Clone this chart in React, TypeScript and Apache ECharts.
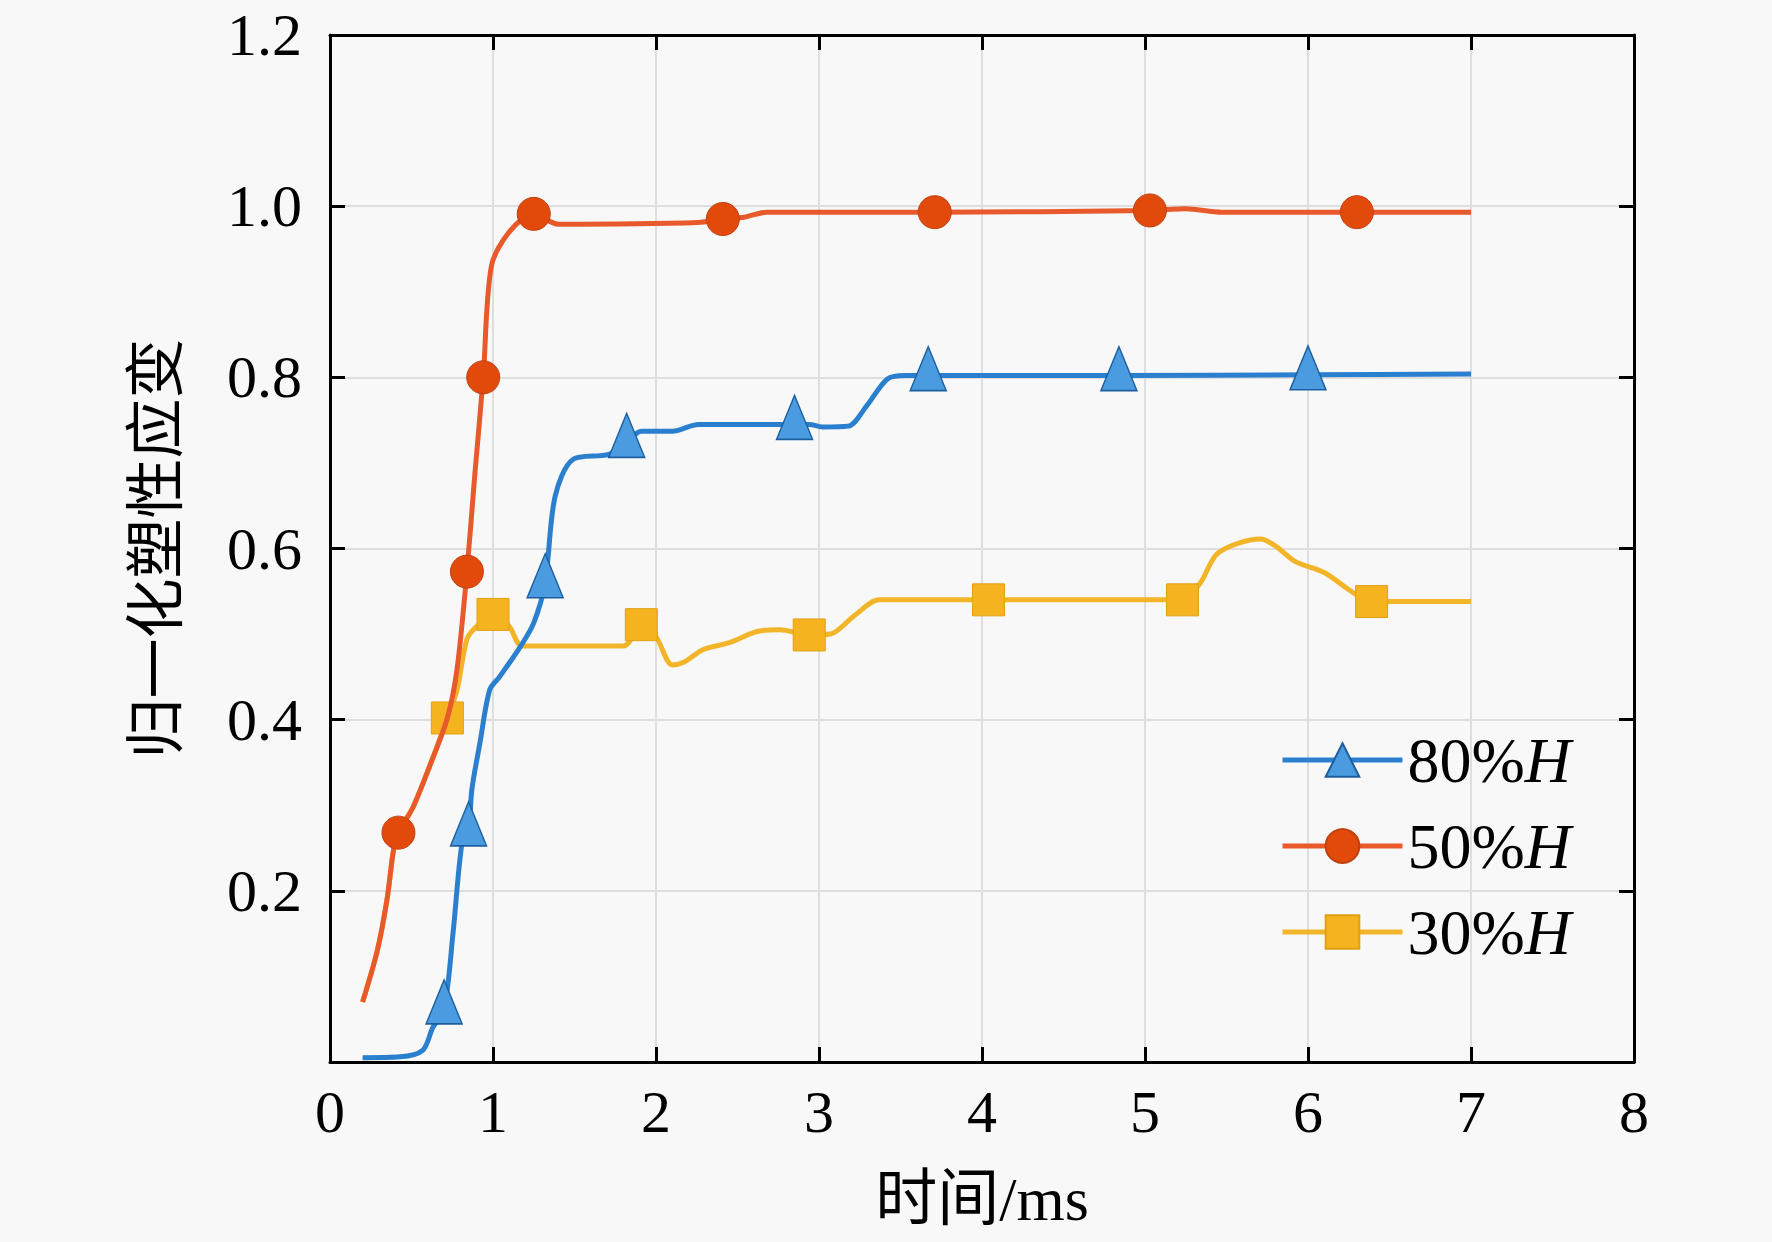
import React, { useEffect, useRef } from "react";
import * as echarts from "echarts";

const xTickLabels = ["0", "1", "2", "3", "4", "5", "6", "7", "8"];
const yTickLabels = ["", "0.2", "0.4", "0.6", "0.8", "1.0", "1.2"];
const seriesNames = ["80%H", "50%H", "30%H"];

// 80%H
const t80 = [0.2, 0.43, 0.57, 0.63, 0.7, 0.755, 0.81, 0.85, 0.87, 0.92, 0.98, 1.04, 1.17, 1.25, 1.32, 1.38, 1.49, 1.71, 1.82, 1.91, 2.1, 2.26, 2.74, 2.85, 2.94, 3.02, 3.18, 3.29, 3.42, 3.53, 3.67, 4.84, 6.0, 7.0];
const v80 = [0.005, 0.006, 0.014, 0.04, 0.062, 0.151, 0.256, 0.27, 0.318, 0.373, 0.435, 0.45, 0.486, 0.513, 0.56, 0.66, 0.704, 0.71, 0.724, 0.737, 0.737, 0.745, 0.745, 0.745, 0.745, 0.742, 0.743, 0.766, 0.798, 0.802, 0.802, 0.802, 0.803, 0.804];
const m80 = [4, 7, 14, 18, 23, 30, 31, 32];

// 50%H
const t50 = [0.2, 0.29, 0.35, 0.39, 0.42, 0.51, 0.61, 0.72, 0.78, 0.84, 0.89, 0.94, 0.99, 1.1, 1.25, 1.4, 2.26, 2.41, 2.54, 2.68, 3.71, 5.03, 5.25, 5.47, 6.3, 7.0];
const v50 = [0.07, 0.13, 0.19, 0.248, 0.268, 0.298, 0.345, 0.402, 0.46, 0.573, 0.69, 0.8, 0.93, 0.97, 0.991, 0.979, 0.981, 0.985, 0.987, 0.993, 0.993, 0.995, 0.997, 0.993, 0.993, 0.993];
const m50 = [4, 9, 11, 14, 17, 20, 21, 24];

// 30%H
const t30 = [0.2, 0.29, 0.35, 0.39, 0.42, 0.51, 0.61, 0.72, 0.78, 0.84, 0.9, 1.0, 1.1, 1.18, 1.8, 1.91, 2.0, 2.1, 2.17, 2.29, 2.45, 2.62, 2.76, 2.94, 3.07, 3.22, 3.37, 4.04, 5.23, 5.34, 5.45, 5.71, 5.8, 5.92, 6.1, 6.25, 6.39, 7.0];
const v30 = [0.07, 0.13, 0.19, 0.248, 0.268, 0.298, 0.345, 0.402, 0.435, 0.494, 0.509, 0.523, 0.509, 0.486, 0.486, 0.511, 0.497, 0.464, 0.467, 0.482, 0.49, 0.503, 0.505, 0.499, 0.5, 0.522, 0.54, 0.54, 0.54, 0.56, 0.595, 0.611, 0.603, 0.585, 0.572, 0.552, 0.538, 0.538];
const m30 = [7, 11, 15, 23, 27, 28, 36];

const SERIF = "'Liberation Serif', 'Times New Roman', serif";
const CJK = "'Liberation Serif', 'Noto Sans CJK SC', serif";

function build(t: number[], v: number[], m: number[]) {
  return t.map((x, i) =>
    m.includes(i) ? { value: [x, v[i]] } : { value: [x, v[i]], symbol: "none" }
  );
}

export default function App() {
  const ref = useRef<HTMLDivElement>(null);
  useEffect(() => {
    const chart = echarts.init(ref.current!, null, { renderer: "svg" });
    const axisLine = { show: true, onZero: false, lineStyle: { color: "#000", width: 3 } };
    const axisTick = { show: true, inside: true, length: 15, lineStyle: { color: "#000", width: 3 } };
    chart.setOption({
      animation: false,
      backgroundColor: "#f8f8f8",
      grid: { left: 330, right: 138, top: 35, bottom: 180, containLabel: false },
      legend: {
        orient: "vertical",
        left: 1275,
        top: 723,
        itemWidth: 120,
        itemHeight: 42,
        itemGap: 22,
        data: seriesNames,
        lineStyle: { width: 5 },
        formatter: (n: string) => n.replace("H", "{i|H}"),
        textStyle: {
          fontFamily: SERIF,
          fontSize: 64,
          color: "#000",
          rich: { i: { fontFamily: SERIF, fontSize: 64, fontStyle: "italic", color: "#000" } },
        },
      },
      xAxis: [
        {
          type: "value",
          min: 0,
          max: 8,
          interval: 1,
          position: "bottom",
          axisLine,
          axisTick,
          axisLabel: {
            margin: 20,
            fontFamily: SERIF,
            fontSize: 60,
            color: "#000",
            formatter: (v: number) => xTickLabels[Math.round(v)],
          },
          splitLine: { show: true, lineStyle: { color: "#dedede", width: 2 } },
          name: "时间/ms",
          nameLocation: "middle",
          nameGap: 106,
          nameTextStyle: { fontFamily: CJK, fontSize: 62, color: "#000" },
        },
        {
          type: "value",
          min: 0,
          max: 8,
          interval: 1,
          position: "top",
          axisLine,
          axisTick,
          axisLabel: { show: false },
          splitLine: { show: false },
        },
      ],
      yAxis: [
        {
          type: "value",
          min: 0,
          max: 1.2,
          interval: 0.2,
          position: "left",
          axisLine,
          axisTick,
          axisLabel: {
            margin: 28,
            fontFamily: SERIF,
            fontSize: 60,
            color: "#000",
            formatter: (v: number) => yTickLabels[Math.round(v / 0.2)],
          },
          splitLine: { show: true, lineStyle: { color: "#dedede", width: 2 } },
          name: "归一化塑性应变",
          nameLocation: "middle",
          nameGap: 150,
          nameRotate: 90,
          nameTextStyle: { fontFamily: "'Noto Sans CJK SC', sans-serif", fontSize: 60, color: "#000" },
        },
        {
          type: "value",
          min: 0,
          max: 1.2,
          interval: 0.2,
          position: "right",
          axisLine,
          axisTick,
          axisLabel: { show: false },
          splitLine: { show: false },
        },
      ],
      series: [
        {
          name: "30%H",
          type: "line",
          data: build(t30, v30, m30),
          smooth: 0.3,
          showAllSymbol: true,
          symbol: "rect",
          symbolSize: 32,
          lineStyle: { color: "#f2b52a", width: 5 },
          itemStyle: { color: "#f5b320", borderColor: "#e0a010", borderWidth: 1 },
          z: 2,
        },
        {
          name: "80%H",
          type: "line",
          data: build(t80, v80, m80),
          smooth: 0.3,
          showAllSymbol: true,
          symbol: "triangle",
          symbolSize: [36, 44],
          symbolOffset: [0, -7],
          lineStyle: { color: "#2a7fcf", width: 5 },
          itemStyle: { color: "#4a9be0", borderColor: "#1d5f9e", borderWidth: 1.5 },
          z: 3,
        },
        {
          name: "50%H",
          type: "line",
          data: build(t50, v50, m50),
          smooth: 0.3,
          showAllSymbol: true,
          symbol: "circle",
          symbolSize: 33,
          lineStyle: { color: "#e8592b", width: 5 },
          itemStyle: { color: "#e24a0c", borderColor: "#c04010", borderWidth: 1 },
          z: 4,
        },
      ],
    });
    return () => chart.dispose();
  }, []);
  return (
    <div
      ref={ref}
      style={{ position: "fixed", left: 0, top: 0, width: 1772, height: 1242, background: "#f8f8f8" }}
    />
  );
}
